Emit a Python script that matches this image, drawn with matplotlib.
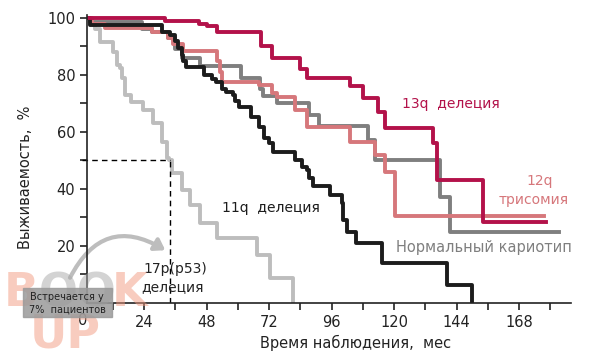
import matplotlib.pyplot as plt
from matplotlib.patches import FancyArrowPatch, Rectangle
import numpy as np

plt.rcParams['font.family'] = ['DejaVu Sans']

# 13q deletion
t13 = [0, 32, 45, 48, 52, 69, 73, 84, 86.5, 103, 108, 114, 116.5, 135, 136.5, 154, 178.5]
s13 = [100, 99, 98, 97, 95, 90, 86, 82, 79, 76, 72, 67, 61.5, 56, 43, 28.5, 28.5]

# normal karyotype
t_norm = [0, 3, 23, 27, 33, 36, 38.5, 45.5, 61, 68.5, 69.5, 75, 87.5, 91, 110, 112.5, 137.5, 141.5, 183.5]
s_norm = [100, 98.6, 96, 95, 93, 89, 86, 83, 79, 75, 72.5, 70, 66, 62, 57, 50, 37, 25, 25]

# 12q trisomy
t12 = [0, 4, 9, 27, 33, 35, 39, 52, 53, 54, 68, 73, 75, 82, 86.5, 103, 112.5, 116.5, 120.5, 177.5]
s12 = [100, 98, 96.5, 95, 93, 91, 88.5, 85, 81, 77.5, 76.5, 73.7, 72.3, 67.7, 61.8, 56.5, 52, 46, 30.5, 30.5]

# 11q deletion
t11 = [0, 3, 31, 34, 36, 37, 38.5, 39, 40, 47, 50, 51.5, 54, 55.5, 58, 59, 60.5, 65, 68, 70,
       72, 73.5, 82, 84.5, 86.5, 87.5, 89, 95.5, 100, 100.5, 102, 105.5, 115.5, 140.5, 150]
s11 = [100, 97.5, 95, 94, 92, 89.5, 87, 85, 82.8, 80, 78.5, 77.5, 75, 74, 73, 71, 68.8, 65.3, 61.8, 58,
       56, 53, 50, 47.7, 46.5, 44, 41, 38, 35, 29, 25, 21, 14, 6.3, 0]

# 17p (p53) deletion
t17 = [0, 3, 5, 7, 12, 13.5, 14.6, 15.4, 16.5, 19, 23.5, 27.3, 30.8, 32.7, 33.5, 34.6,
       38.5, 41.5, 45.5, 52, 67.3, 72.3, 81.2]
s17 = [100, 98, 96, 91.6, 88, 83.5, 82.5, 79, 73, 70.5, 67.7, 63, 56.5, 51, 50, 45.5,
       39.6, 34.4, 28, 22.8, 16.8, 8.8, 0]

median17 = 34

fig = plt.figure(figsize=(6.11, 3.61), dpi=100)
ax = fig.add_axes([87 / 611, 1 - 303 / 361, (571 - 87) / 611, (303 - 15) / 361])

lw = 2.8
ax.step(t17, s17, where='post', color='#bdbdbd', lw=lw)
ax.step(t_norm, s_norm, where='post', color='#7f7f7f', lw=lw)
ax.step(t12, s12, where='post', color='#d6777b', lw=lw)
ax.step(t11, s11, where='post', color='#1c1c1c', lw=lw)
ax.step(t13, s13, where='post', color='#b3124a', lw=lw)

# median survival 17p
ax.plot([0, median17], [50, 50], color='black', lw=1, ls=(0, (4, 3)), clip_on=False)
ax.plot([median17, median17], [0, 50], color='black', lw=1, ls=(0, (4, 3)))

ax.set_xlim(2, 188)
ax.set_ylim(0, 101)
ax.set_xticks(np.arange(24, 169, 24))
ax.set_xticks(np.arange(12, 181, 24), minor=True)
ax.set_yticks(np.arange(20, 101, 20))
ax.set_yticks(np.arange(10, 100, 20), minor=True)
ax.tick_params(labelsize=10.5, length=5, width=1.2, color='#222222', labelcolor='#222222')
ax.tick_params(which='minor', length=5, width=1.2, color='#222222')
ax.text(0.5, -3.5, '0', ha='center', va='top', fontsize=10.5, color='#222222')
for side in ['top', 'right']:
    ax.spines[side].set_visible(False)
for side in ['left', 'bottom']:
    ax.spines[side].set_linewidth(1.2)
    ax.spines[side].set_color('#222222')

fig.text(25 / 611, 1 - 177 / 361, 'Выживаемость,  %', rotation=90, ha='center', va='center',
         fontsize=10.5, color='#222222')
fig.text(356 / 611, 1 - 343 / 361, 'Время наблюдения,  мес', ha='center', va='center',
         fontsize=10.5, color='#222222')

ax.text(141.7, 69.8, '13q  делеция', color='#b3124a', fontsize=10, ha='center', va='center')
ax.text(176, 42.8, '12q', color='#d6777b', fontsize=10, ha='center', va='center')
ax.text(173.7, 36.1, 'трисомия', color='#d6777b', fontsize=10, ha='center', va='center')
ax.text(154.4, 19.3, 'Нормальный кариотип', color='#7f7f7f', fontsize=10.5, ha='center', va='center')
ax.text(72.5, 33.3, '11q  делеция', color='#1c1c1c', fontsize=10, ha='center', va='center')
ax.text(36, 12, '17p(p53)', color='#222222', fontsize=10, ha='center', va='center')
ax.text(35, 5.5, 'делеция', color='#222222', fontsize=10, ha='center', va='center')

# arrow from note to 17p label
arr = FancyArrowPatch((-5, 8), (33, 18), connectionstyle='arc3,rad=-0.55',
                      arrowstyle='-|>,head_length=6,head_width=4', color='#bdbdbd',
                      lw=3, clip_on=False, zorder=1)
ax.add_patch(arr)

# watermark
wm = dict(fontsize=33, fontweight='bold', alpha=0.5, ha='left', va='center', zorder=0)
fig.text(4 / 611, 1 - 294 / 361, 'B', color='#f29a80', **wm)
fig.text(39 / 611, 1 - 294 / 361, 'OO', color='#a8a8a8', **wm)
fig.text(112 / 611, 1 - 294 / 361, 'K', color='#f29a80', **wm)
fig.text(30 / 611, 1 - 335 / 361, 'UP', color='#f29a80', **wm)

fig.patches.append(Rectangle((23 / 611, 1 - 317 / 361), 89 / 611, 29 / 361,
                             transform=fig.transFigure, color='#9a9a9a', alpha=0.85, zorder=5))
fig.text(67 / 611, 1 - 297 / 361, 'Встречается у', fontsize=7, ha='center', va='center',
         color='#222222', zorder=6)
fig.text(67 / 611, 1 - 310 / 361, '7%  пациентов', fontsize=7, ha='center', va='center',
         color='#222222', zorder=6)

fig.savefig('out.png', dpi=100)
